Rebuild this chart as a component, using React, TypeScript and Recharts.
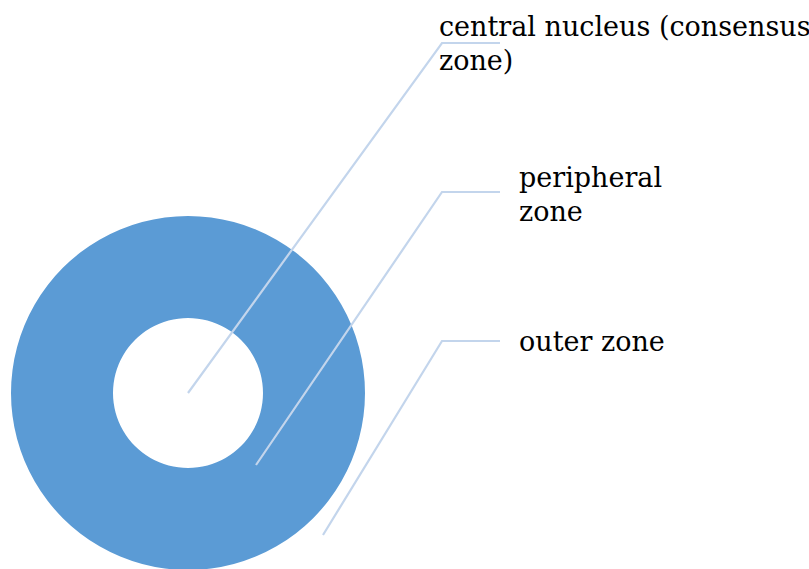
import { PieChart, Pie, Cell } from "recharts";

// one ring, three named zones pointed at by callouts
const zoneNames = ["central nucleus (consensus zone)", "peripheral zone", "outer zone"];
const ringValues = [100];

const ringData = ringValues.map((value, i) => ({ name: "ring" + i, value }));

// callout geometry, relative to the pie centre; breakAfter = words on first line
const callouts = [
  { anchor: [0, 0], elbow: [254, -350], end: [312, -350], text: [251, -357], breakAfter: 3 },
  { anchor: [68, 72], elbow: [254, -201], end: [312, -201], text: [331, -206], breakAfter: 1 },
  { anchor: [135, 142], elbow: [254, -52], end: [312, -52], text: [331, -42], breakAfter: 2 },
];

const FONT = "'DejaVu Serif', serif";
const LINE_H = 34;

function splitLines(name: string, n: number) {
  const words = name.split(" ");
  const first = words.slice(0, n).join(" ");
  const rest = words.slice(n).join(" ");
  return rest ? [first, rest] : [first];
}

function renderCallouts(props: any) {
  const { cx, cy } = props;
  return (
    <g>
      {callouts.map((c, i) => (
        <g key={i}>
          <polyline
            points={`${cx + c.anchor[0]},${cy + c.anchor[1]} ${cx + c.elbow[0]},${cy + c.elbow[1]} ${cx + c.end[0]},${cy + c.end[1]}`}
            fill="none"
            stroke="#C3D5EC"
            strokeWidth={2.2}
          />
          <text x={cx + c.text[0]} y={cy + c.text[1]} fontSize={27} fontFamily={FONT} fill="#000">
            {splitLines(zoneNames[i], c.breakAfter).map((line, j) => (
              <tspan key={j} x={cx + c.text[0]} dy={j === 0 ? 0 : LINE_H}>
                {line}
              </tspan>
            ))}
          </text>
        </g>
      ))}
    </g>
  );
}

export default function App() {
  return (
    <div style={{ position: "fixed", left: 0, top: 0, width: 809, height: 569, background: "#fff", overflow: "hidden" }}>
      <PieChart width={809} height={569} margin={{ top: 0, right: 0, bottom: 0, left: 0 }}>
        <Pie
          data={ringData}
          dataKey="value"
          cx={188}
          cy={393}
          innerRadius={75}
          outerRadius={177}
          startAngle={90}
          endAngle={-270}
          stroke="none"
          label={renderCallouts}
          labelLine={false}
          isAnimationActive={false}
        >
          {ringData.map((d) => (
            <Cell key={d.name} fill="#5B9BD5" />
          ))}
        </Pie>
      </PieChart>
    </div>
  );
}
